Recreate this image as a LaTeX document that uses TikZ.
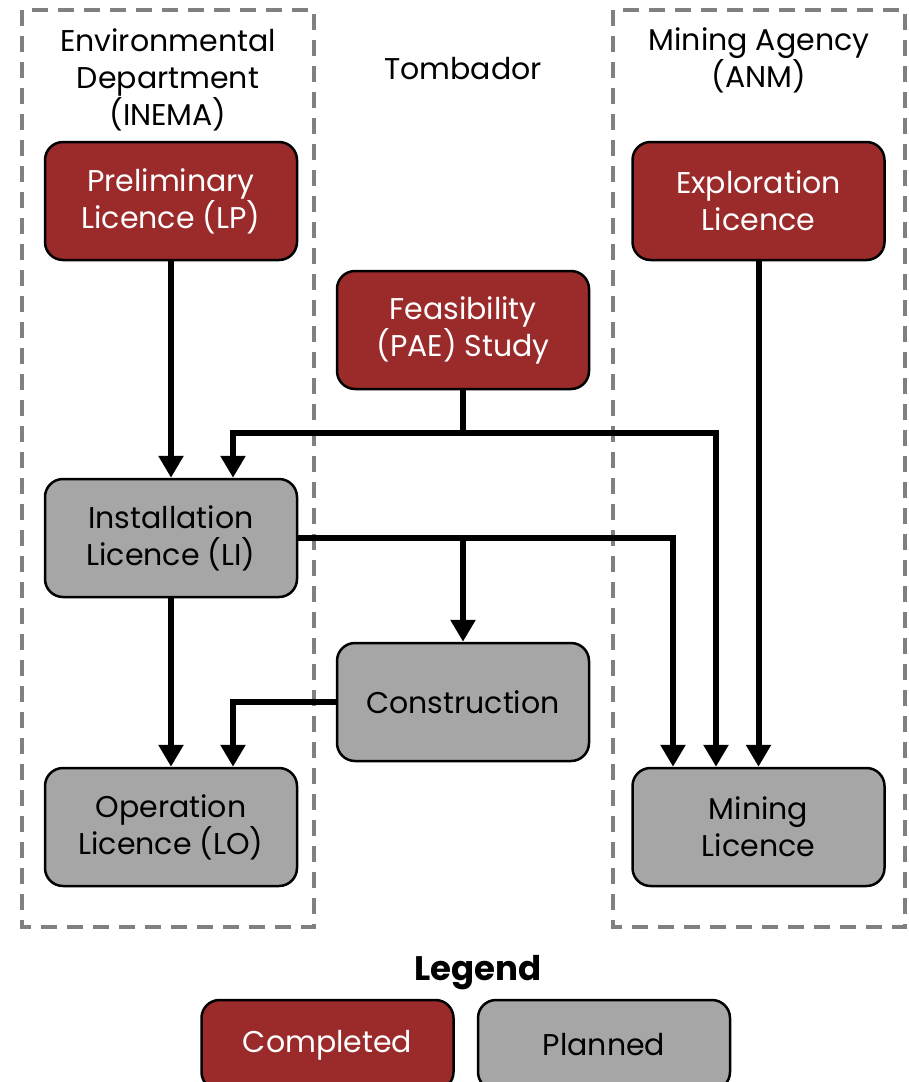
\documentclass[tikz,border=0pt]{standalone}
\usepackage{fontspec}
\setmainfont{Poppins}
\usetikzlibrary{arrows.meta}
\definecolor{done}{HTML}{9B2B2B}
\definecolor{plan}{HTML}{A6A6A6}
\definecolor{dash}{HTML}{808080}
\begin{document}
\begin{tikzpicture}[x=1pt,y=-1pt,
  box/.style={draw=black,line width=2.5pt,rounded corners=18pt,minimum width=252pt,minimum height=118pt,align=center,inner sep=0pt,font=\fontsize{30}{37}\selectfont},
  donebox/.style={box,fill=done,text=white},
  planbox/.style={box,fill=plan,text=black},
  grp/.style={draw=dash,line width=3.5pt,dash pattern=on 16pt off 10pt},
  lbl/.style={align=center,font=\fontsize{30}{37}\selectfont,inner sep=0pt},
  arr/.style={line width=6pt,-{Triangle[width=24pt,length=22pt]}},
  link/.style={line width=6pt}]
\useasboundingbox (0,0) rectangle (909,1082);
\draw[grp] (22,10) rectangle (314,927);
\draw[grp] (613,10) rectangle (905,927);
\node[lbl] (envlbl) at (168,80) {Environmental\\Department\\(INEMA)};
\node[lbl] (tomb) at (463,69) {Tombador};
\node[lbl] (anmlbl) at (759,60) {Mining Agency\\(ANM)};
\node[donebox] (lp) at (171,201) {Preliminary\\Licence (LP)};
\node[donebox] (expl) at (758.5,201) {Exploration\\Licence};
\node[donebox] (feas) at (463,330) {Feasibility\\(PAE) Study};
\node[planbox] (li) at (171,538) {Installation\\Licence (LI)};
\node[planbox] (con) at (463,702) {Construction};
\node[planbox] (lo) at (171,827) {Operation\\Licence (LO)};
\node[planbox] (ml) at (758.5,827) {Mining\\Licence};
\coordinate (fj) at (463,433);
\coordinate (lj) at (463,538);
\draw[arr] (lp.south) -- (li.north);
\draw[link] (feas.south) -- (fj);
\draw[arr] (fj) -| ([xshift=62pt]li.north);
\draw[arr] (fj) -| ([xshift=-42.5pt]ml.north);
\draw[arr] (li.east) -| ([xshift=-85.5pt]ml.north);
\draw[arr] (lj) -- (con.north);
\draw[arr] (li.south) -- (lo.north);
\draw[arr] (con.west) -| ([xshift=62pt]lo.north);
\draw[arr] (expl.south) -- (ml.north);
\node[font=\fontsize{34}{40}\selectfont\bfseries,inner sep=0pt] (leg) at (478,973) {Legend};
\node[donebox,minimum height=90pt] (lc) at (327.5,1045) {Completed};
\node[planbox,minimum height=90pt] (lpl) at (604,1045) {Planned};
\end{tikzpicture}
\end{document}
